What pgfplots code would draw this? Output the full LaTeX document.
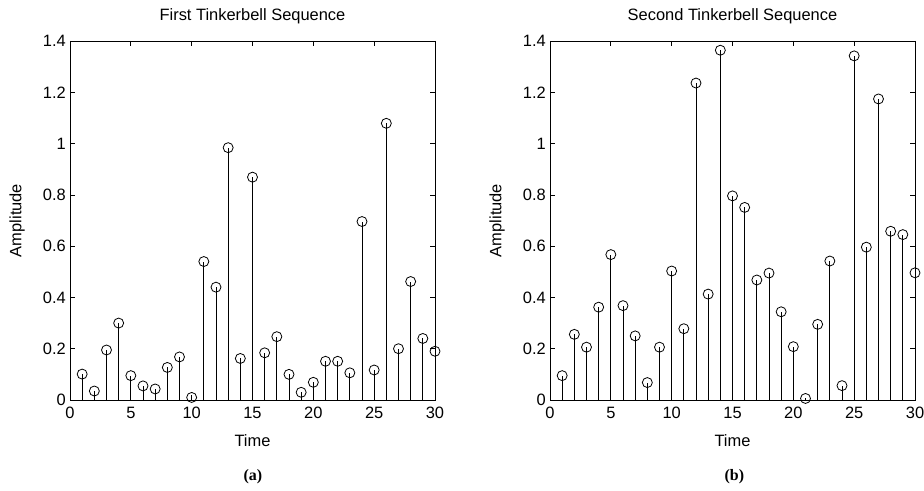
\documentclass[border=0pt]{standalone}
\usepackage{pgfplots}
\pgfplotsset{compat=1.18}
\usepackage{fontspec}
\setmainfont{Liberation Sans}
\newfontfamily\capfont{Liberation Serif}

\pgfplotsset{
  stemax/.style={
    scale only axis, width=365bp, height=359bp,
    xmin=0, xmax=30, ymin=0, ymax=1.4,
    xtick={0,5,...,30}, ytick={0,0.2,...,1.4},
    yticklabel style={/pgf/number format/fixed, inner sep=1bp, xshift=-3bp},
    xticklabel style={inner sep=1bp, yshift=-6bp},
    /pgf/number format/assume math mode=true,
    tick align=inside, major tick length=5bp,
    axis line style={black, line width=0.7bp},
    tick style={black, line width=0.7bp},
    ticklabel style={font=\fontsize{16.5}{18}\selectfont},
    label style={font=\fontsize{16.5}{18}\selectfont},
    title style={font=\fontsize{16.5}{18}\selectfont, at={(axis description cs:0.5,1.04)}, anchor=base},
    xlabel style={at={(axis description cs:0.5,-0.130)}, anchor=base},
    ylabel style={at={(axis description cs:-0.145,0.5)}, anchor=center},
    clip=false,
  },
  stem/.style={ycomb, black, line width=0.8bp, mark=o, mark size=5bp,
    mark options={black, line width=0.8bp, fill=none}},
}

\begin{document}
\begin{tikzpicture}
\path[use as bounding box] (0,0) rectangle (924bp,491bp);

\begin{axis}[stemax, at={(70bp,91bp)}, anchor=south west,
  title={First Tinkerbell Sequence}, xlabel={Time}, ylabel={Amplitude}]
\addplot[stem] coordinates {
(1,0.101) (2,0.035) (3,0.195) (4,0.300) (5,0.095) (6,0.055) (7,0.043)
(8,0.127) (9,0.168) (10,0.010) (11,0.540) (12,0.440) (13,0.984) (14,0.162)
(15,0.869) (16,0.184) (17,0.247) (18,0.100) (19,0.030) (20,0.069) (21,0.151)
(22,0.151) (23,0.106) (24,0.696) (25,0.117) (26,1.079) (27,0.200) (28,0.462)
(29,0.240) (30,0.190)};
\node[font=\capfont\bfseries\fontsize{16}{18}\selectfont, anchor=base]
  at (axis description cs:0.501,-0.225) {(a)};
\end{axis}

\begin{axis}[stemax, at={(550bp,91bp)}, anchor=south west,
  title={Second Tinkerbell Sequence}, xlabel={Time}, ylabel={Amplitude}]
\addplot[stem] coordinates {
(1,0.095) (2,0.256) (3,0.206) (4,0.362) (5,0.567) (6,0.368) (7,0.250)
(8,0.068) (9,0.206) (10,0.503) (11,0.278) (12,1.236) (13,0.413) (14,1.364)
(15,0.796) (16,0.751) (17,0.468) (18,0.495) (19,0.344) (20,0.208) (21,0.006)
(22,0.295) (23,0.542) (24,0.056) (25,1.342) (26,0.596) (27,1.174) (28,0.658)
(29,0.645) (30,0.496)};
\node[font=\capfont\bfseries\fontsize{16}{18}\selectfont, anchor=base]
  at (axis description cs:0.505,-0.225) {(b)};
\end{axis}
\end{tikzpicture}
\end{document}
